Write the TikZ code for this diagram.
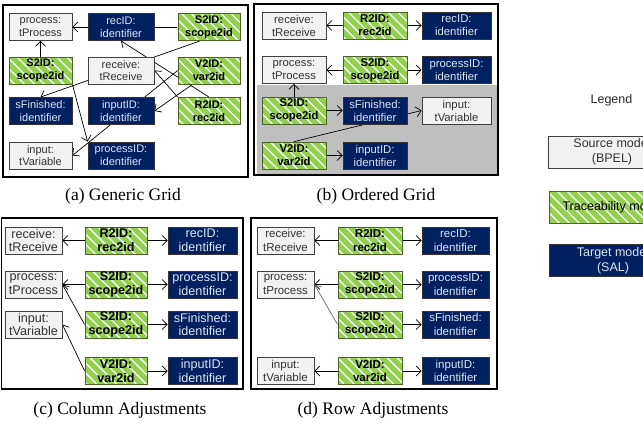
\documentclass[tikz,border=0pt]{standalone}
\usepackage{fontspec}
\setmainfont{Liberation Sans}
\newfontfamily\capfont{Liberation Serif}
\usetikzlibrary{arrows.meta,patterns.meta}
\definecolor{navy}{RGB}{0,32,96}
\definecolor{navytext}{RGB}{220,230,242}
\definecolor{grn}{RGB}{146,208,80}
\definecolor{grnborder}{RGB}{79,98,40}
\definecolor{srcfill}{RGB}{242,242,242}
\definecolor{srcborder}{RGB}{64,64,64}
\definecolor{panelgray}{RGB}{191,191,191}
\pgfdeclarelayer{back}
\pgfdeclarelayer{edges}
\pgfsetlayers{back,edges,main}
\def\boxfs{11}
\def\boxbs{12.8}
\begin{document}
\begin{tikzpicture}[x=1pt,y=-1pt,
 box/.style={minimum height=27pt, inner sep=0.5pt, align=center, line width=0.8pt, font=\fontsize{\boxfs}{\boxbs}\selectfont},
 src/.style={box, draw=srcborder, fill=srcfill, text=black!80},
 tgt/.style={box, draw=black!80, fill=navy, text=navytext},
 trc/.style={box, draw=grnborder, preaction={fill=grn}, pattern={Lines[angle=-45,distance=7pt,line width=1.3pt]}, pattern color=white, font=\fontsize{\boxfs}{\boxbs}\selectfont\bfseries},
 link/.style={draw=black, line width=0.7pt, -{Straight Barb[length=5pt,width=10pt]}},
 graylink/.style={link, draw=black!60},
 panelframe/.style={draw=black, line width=1.5pt},
 captext/.style={font=\fontsize{17.5}{20}\selectfont\capfont},
 legendbox/.style={font=\fontsize{12.5}{15}\selectfont, minimum width=128pt, minimum height=32pt}
]
\useasboundingbox (0,0) rectangle (643,426);

% ---------- panel (a) ----------
\begin{scope}
\def\boxfs{11}\def\boxbs{12.8}
\node[src, minimum width=63pt] (aProc) at (40.5,27) {process:\\tProcess};
\node[tgt, minimum width=66pt] (aRec) at (121,27) {recID:\\identifier};
\node[trc, minimum width=62pt] (aS2t) at (209,27) {S2ID:\\scope2id};
\node[trc, minimum width=63pt] (aS2l) at (40.5,70.5) {S2ID:\\scope2id};
\node[src, minimum width=66pt] (aRecv) at (121,70.5) {receive:\\tReceive};
\node[trc, minimum width=62pt] (aV2) at (209,70.5) {V2ID:\\var2id};
\node[tgt, minimum width=63pt] (aSF) at (40.5,111) {sFinished:\\identifier};
\node[tgt, minimum width=66pt] (aInID) at (121,111) {inputID:\\identifier};
\node[trc, minimum width=62pt] (aR2) at (209,111) {R2ID:\\rec2id};
\node[src, minimum width=63pt] (aInp) at (40.5,155.5) {input:\\tVariable};
\node[tgt, minimum width=66pt] (aPrID) at (121,155.5) {processID:\\identifier};
\end{scope}

% ---------- panel (b) ----------
\begin{scope}
\def\boxfs{11.3}\def\boxbs{13}
\node[src, minimum width=64pt] (bRecv) at (294,25.5) {receive:\\tReceive};
\node[trc, minimum width=64pt] (bR2) at (375,25.5) {R2ID:\\rec2id};
\node[tgt, minimum width=69pt] (bRec) at (456.5,25.5) {recID:\\identifier};
\node[src, minimum width=64pt] (bProc) at (294,70) {process:\\tProcess};
\node[trc, minimum width=64pt] (bS2a) at (375,70) {S2ID:\\scope2id};
\node[tgt, minimum width=69pt] (bPrID) at (456.5,70) {processID:\\identifier};
\node[trc, minimum width=64pt] (bS2b) at (294,110.5) {S2ID:\\scope2id};
\node[tgt, minimum width=64pt] (bSF) at (375,110.5) {sFinished:\\identifier};
\node[src, minimum width=69pt] (bInp) at (456.5,110.5) {input:\\tVariable};
\node[trc, minimum width=64pt] (bV2) at (294,155.5) {V2ID:\\var2id};
\node[tgt, minimum width=64pt] (bInID) at (375,155.5) {inputID:\\identifier};
\end{scope}

% ---------- panel (c) ----------
\begin{scope}
\def\boxfs{12.6}\def\boxbs{13.8}
\node[src, minimum width=57pt] (cRecv) at (33.5,240.5) {receive:\\tReceive};
\node[trc, minimum width=62pt] (cR2) at (116,240.5) {R2ID:\\rec2id};
\node[tgt, minimum width=69pt] (cRec) at (202.5,240.5) {recID:\\identifier};
\node[src, minimum width=57pt] (cProc) at (33.5,284.5) {process:\\tProcess};
\node[trc, minimum width=62pt] (cS2a) at (116,284.5) {S2ID:\\scope2id};
\node[tgt, minimum width=69pt] (cPrID) at (202.5,284.5) {processID:\\identifier};
\node[src, minimum width=57pt] (cInp) at (33.5,324.5) {input:\\tVariable};
\node[trc, minimum width=62pt] (cS2b) at (116,324.5) {S2ID:\\scope2id};
\node[tgt, minimum width=69pt] (cSF) at (202.5,324.5) {sFinished:\\identifier};
\node[trc, minimum width=62pt] (cV2) at (116,371) {V2ID:\\var2id};
\node[tgt, minimum width=69pt] (cInID) at (202.5,371) {inputID:\\identifier};
\end{scope}

% ---------- panel (d) ----------
\begin{scope}
\def\boxfs{11.5}\def\boxbs{13.3}
\node[src, minimum width=57pt] (dRecv) at (285.5,240.5) {receive:\\tReceive};
\node[trc, minimum width=64pt] (dR2) at (370,240.5) {R2ID:\\rec2id};
\node[tgt, minimum width=67pt] (dRec) at (455.5,240.5) {recID:\\identifier};
\node[src, minimum width=57pt] (dProc) at (285.5,284.5) {process:\\tProcess};
\node[trc, minimum width=64pt] (dS2a) at (370,284.5) {S2ID:\\scope2id};
\node[tgt, minimum width=67pt] (dPrID) at (455.5,284.5) {processID:\\identifier};
\node[trc, minimum width=64pt] (dS2b) at (370,324.5) {S2ID:\\scope2id};
\node[tgt, minimum width=67pt] (dSF) at (455.5,324.5) {sFinished:\\identifier};
\node[src, minimum width=57pt] (dInp) at (285.5,371) {input:\\tVariable};
\node[trc, minimum width=64pt] (dV2) at (370,371) {V2ID:\\var2id};
\node[tgt, minimum width=67pt] (dInID) at (455.5,371) {inputID:\\identifier};
\end{scope}

% ---------- captions ----------
\node[captext] (capA) at (123,196) {(a) Generic Grid};
\node[captext] (capB) at (376,196) {(b) Ordered Grid};
\node[captext] (capC) at (120,410) {(c) Column Adjustments};
\node[captext] (capD) at (373,410) {(d) Row Adjustments};

% ---------- legend ----------
\node[font=\fontsize{12.5}{15}\selectfont, text=black!85] (lgd) at (611.5,100) {Legend};
\node[src, legendbox] (lsrc) at (612,152) {Source model\\(BPEL)};
\node[trc, legendbox, text=black, font=\fontsize{12.5}{15}\selectfont\mdseries] (ltrc) at (613,207) {Traceability model};
\node[tgt, legendbox] (ltgt) at (613,260.5) {Target model\\(SAL)};

% ---------- frames ----------
\begin{pgfonlayer}{back}
\path[panelframe] (3,5) rectangle (248,177);
\path[panelframe] (254,4) rectangle (498,175);
\fill[panelgray] (257,85) rectangle (497,174);
\path[panelframe] (1.5,218) rectangle (243,389);
\path[panelframe] (251,218) rectangle (497,389);
\end{pgfonlayer}

% ---------- connectors ----------
\begin{pgfonlayer}{edges}
% (a)
\draw[link] (aS2t) -- (aProc);
\draw[link] (aS2t.236) -- (aSF.north);
\draw[link] (aS2l) -- (aProc);
\draw[link] (aS2l.south east) -- (aPrID.north west);
\draw[link] (aV2.west) -- (aInp.east);
\draw[link] (aV2.220) -- (aInID.east);
\draw[link] (aR2.north west) -- (aRecv.east);
\draw[link] (aR2.north) -- (aRec.south);
% (b)
\draw[link] (bR2) -- (bRecv);
\draw[link] (bR2) -- (bRec);
\draw[link] (bS2a) -- (bProc);
\draw[link] (bS2a) -- (bPrID);
\draw[link] (bS2b) -- (bProc);
\draw[link] (bS2b) -- (bSF);
\draw[link] (bV2) -- (bInID);
\draw[link] (bV2.north) -- (bInp.west);
% (c)
\draw[link] (cR2) -- (cRecv);
\draw[link] (cR2) -- (cRec);
\draw[link] (cS2a) -- (cProc);
\draw[link] (cS2a) -- (cPrID);
\draw[link] (cS2b.west) -- (cProc.east);
\draw[link] (cS2b) -- (cSF);
\draw[link] (cV2.west) -- (cInp.east);
\draw[link] (cV2) -- (cInID);
% (d)
\draw[link] (dR2) -- (dRecv);
\draw[link] (dR2) -- (dRec);
\draw[link] (dS2a) -- (dProc);
\draw[link] (dS2a) -- (dPrID);
\draw[graylink] (dS2b.west) -- (dProc.east);
\draw[link] (dS2b) -- (dSF);
\draw[link] (dV2) -- (dInp);
\draw[link] (dV2) -- (dInID);
\end{pgfonlayer}
\end{tikzpicture}
\end{document}
